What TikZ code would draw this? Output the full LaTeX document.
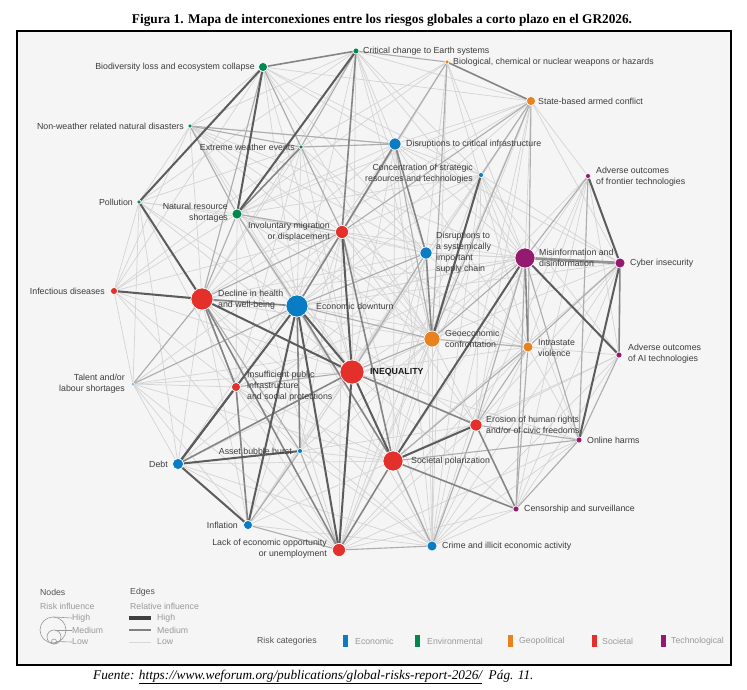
\documentclass[tikz,border=0pt]{standalone}
\usepackage{fontspec}
\newfontfamily\lsans{Liberation Sans}
\newfontfamily\lserif{Liberation Serif}
\definecolor{ecoC}{HTML}{0A7CC4}
\definecolor{envC}{HTML}{00884F}
\definecolor{geoC}{HTML}{E8821E}
\definecolor{socC}{HTML}{E3302B}
\definecolor{tecC}{HTML}{95196E}
\definecolor{bgC}{HTML}{F5F5F5}
\definecolor{txtC}{HTML}{3C3C3C}
\definecolor{legC}{HTML}{9A9A9A}
\pgfdeclarelayer{bg}
\pgfdeclarelayer{edges}
\pgfsetlayers{bg,edges,main}
\tikzset{
  nd/.style={circle, draw=white, line width=0.6pt, inner sep=0pt, minimum size=#1},
  lbl/.style={font=\lsans\fontsize{8.8}{11}\selectfont, text=txtC, inner sep=0pt, align=left},
  lblr/.style={lbl, align=right},
  legt/.style={font=\lsans\fontsize{8.7}{10}\selectfont, text=legC, inner sep=0pt, anchor=west},
  legh/.style={font=\lsans\fontsize{8.7}{10}\selectfont, text=black!68, inner sep=0pt, anchor=west},
  eL/.style={draw=black!17, line width=0.7pt},
  eM/.style={draw=black!32, line width=1.1pt},
  eMH/.style={draw=black!48, line width=1.6pt},
  eH/.style={draw=black!64, line width=2pt},
}
\begin{document}
\begin{tikzpicture}[x=1pt,y=-1pt]
\useasboundingbox (0,0) rectangle (747,690);
\begin{pgfonlayer}{bg}
\fill[white] (0,0) rectangle (747,690);
\fill[bgC] (17,31) rectangle (731,665);
\end{pgfonlayer}
\draw[line width=2pt] (17,31) rectangle (731,665);

% title and source
\node[font=\lserif\bfseries\fontsize{13.3}{15}\selectfont, inner sep=0pt] (title) at (382,20) {Figura 1. Mapa de interconexiones entre los riesgos globales a corto plazo en el GR2026.};
\node[font=\lserif\itshape\fontsize{13.3}{15}\selectfont, inner sep=0pt, anchor=west] (src) at (93,677) {Fuente: \underline{https://www.weforum.org/publications/global-risks-report-2026/}\ \ Pág. 11.};

% risk nodes
\node[nd=6pt, fill=envC] (cc) at (356,51) {};
\node[nd=9pt, fill=envC] (bio) at (263,67) {};
\node[nd=4pt, fill=geoC] (bcn) at (447,62) {};
\node[nd=9pt, fill=geoC] (sac) at (531,101) {};
\node[nd=4pt, fill=envC] (nwd) at (190,126) {};
\node[nd=4pt, fill=envC] (ewe) at (301,147) {};
\node[nd=12pt, fill=ecoC] (dci) at (395,144) {};
\node[nd=5pt, fill=ecoC] (csr) at (481,175) {};
\node[nd=5pt, fill=tecC] (aof) at (588,176) {};
\node[nd=4pt, fill=envC] (pol) at (139,202) {};
\node[nd=10pt, fill=envC] (nrs) at (237,214) {};
\node[nd=13pt, fill=socC] (inv) at (342,232) {};
\node[nd=12pt, fill=ecoC] (ssc) at (426,253) {};
\node[nd=20pt, fill=tecC] (mis) at (525,258) {};
\node[nd=10pt, fill=tecC] (cyb) at (620,263) {};
\node[nd=7pt, fill=socC] (inf) at (114,291) {};
\node[nd=22pt, fill=socC] (dhw) at (202,299) {};
\node[nd=22pt, fill=ecoC] (edt) at (297,306) {};
\node[nd=16pt, fill=geoC] (geo) at (432,339) {};
\node[nd=10pt, fill=geoC] (isv) at (528,347) {};
\node[nd=6pt, fill=tecC] (aai) at (619,355) {};
\node[nd=24pt, fill=socC] (ineq) at (352,372) {};
\node[nd=3pt, fill=ecoC] (tls) at (133,384) {};
\node[nd=9pt, fill=socC] (ipi) at (236,387) {};
\node[nd=12pt, fill=socC] (ehr) at (476,425) {};
\node[nd=6pt, fill=tecC] (onh) at (579,440) {};
\node[nd=5pt, fill=ecoC] (abb) at (300,451) {};
\node[nd=11pt, fill=ecoC] (debt) at (178,464) {};
\node[nd=20pt, fill=socC] (spo) at (393,461) {};
\node[nd=6pt, fill=tecC] (cas) at (516,509) {};
\node[nd=9pt, fill=ecoC] (infl) at (248,525) {};
\node[nd=13pt, fill=socC] (leo) at (339,550) {};
\node[nd=10pt, fill=ecoC] (crm) at (432,546) {};

% connectors
\begin{pgfonlayer}{edges}
\foreach \a/\b in {cc/dci, cc/csr, cc/ssc, cc/inv, cc/dhw, cc/edt, cc/pol, cc/nwd, cc/geo, cc/ineq, cc/sac, cc/mis,
 bio/nwd, bio/dci, bio/inv, bio/edt, bio/inf, bio/ineq, bio/ssc, bio/geo, bio/csr, bio/sac,
 bcn/ssc, bcn/inv, bcn/nrs, bcn/ewe, bcn/mis, bcn/edt, bcn/crm, bcn/isv,
 sac/dci, sac/edt, sac/dhw, sac/mis, sac/ehr, sac/spo, sac/cyb, sac/aof, sac/nrs, sac/leo, sac/crm, sac/ineq,
 nwd/dci, nwd/inv, nwd/dhw, nwd/edt, nwd/ineq, nwd/pol, nwd/ssc, nwd/geo, nwd/mis,
 ewe/dci, ewe/dhw, ewe/edt, ewe/ipi, ewe/pol, ewe/inf, ewe/ssc, ewe/ineq, ewe/geo,
 dci/nrs, dci/dhw, dci/ineq, dci/spo, dci/mis, dci/csr, dci/crm, dci/cyb, dci/isv, dci/debt,
 csr/inv, csr/ssc, csr/edt, csr/ineq, csr/spo, csr/mis, csr/ehr, csr/aai, csr/onh, csr/nrs, csr/cyb, csr/leo, csr/crm,
 aof/aai, aof/onh, aof/isv, aof/ehr, aof/cas, aof/spo, aof/geo,
 pol/inf, pol/nrs, pol/edt, pol/ineq, pol/inv, pol/ipi, pol/tls, pol/debt,
 nrs/inf, nrs/edt, nrs/geo, nrs/ssc, nrs/ineq, nrs/ipi, nrs/spo, nrs/leo, nrs/isv,
 inv/ssc, inv/edt, inv/geo, inv/isv, inv/mis, inv/ehr, inv/ipi, inv/leo, inv/crm, inv/infl, inv/abb, inv/tls,
 ssc/dhw, ssc/infl, ssc/mis, ssc/spo, ssc/leo, ssc/abb, ssc/debt, ssc/isv, ssc/crm, ssc/cyb,
 mis/ineq, mis/edt, mis/crm, mis/dhw, mis/ipi,
 cyb/ehr, cyb/cas, cyb/crm, cyb/geo, cyb/spo, cyb/edt,
 inf/edt, inf/ipi, inf/tls, inf/ineq, inf/inv, inf/nwd, inf/leo,
 dhw/tls, dhw/spo, dhw/geo, dhw/abb, dhw/debt, dhw/crm, dhw/infl,
 edt/ehr, edt/crm, edt/isv, edt/mis,
 geo/ehr, geo/leo, geo/abb, geo/crm, geo/infl, geo/debt,
 isv/crm, isv/ineq, isv/onh, isv/aai, isv/leo,
 aai/ehr, aai/cas, aai/spo, aai/crm,
 ineq/tls, ineq/infl, ineq/crm, ineq/cas, ineq/onh,
 tls/ipi, tls/leo, tls/spo, tls/infl, tls/debt, tls/geo,
 ipi/abb, ipi/leo, ipi/spo, ipi/infl, ipi/crm,
 ehr/leo, ehr/crm, ehr/abb,
 onh/crm, onh/leo, abb/spo, abb/crm, debt/spo, debt/leo, debt/crm,
 spo/infl, cas/crm, cas/leo, infl/crm}
 \draw[eL] (\a) -- (\b);
\foreach \a/\b in {sac/geo, mis/ehr, mis/geo, spo/onh, isv/ehr, isv/cas, cyb/isv, aai/onh, aof/mis,
 dci/inv, dci/geo, ssc/edt, ssc/ineq, inv/nrs, inv/dhw, nwd/nrs, nwd/ewe, ewe/inv, cc/ewe, bio/ewe, bio/dhw,
 tls/edt, tls/dhw, ipi/edt, ipi/dhw, ipi/ineq, abb/infl, abb/leo, infl/leo, crm/spo, crm/ehr, crm/leo, crm/ineq,
 cas/mis, onh/mis, ehr/onh, geo/ineq, geo/edt, geo/isv, isv/spo, sac/isv, sac/inv, bcn/cc, bcn/dci, bcn/geo,
 dci/ewe, dci/nwd, csr/geo, dhw/nrs, edt/nrs, sac/csr, onh/cas, aof/onh, dhw/abb}
 \draw[eM] (\a) -- (\b);
\foreach \a/\b in {cyb/aai, ewe/nrs, edt/abb, mis/isv, dhw/edt, leo/spo, debt/ineq, dci/ssc, ssc/geo,
 dhw/leo, spo/cas, ehr/cas, bcn/sac, cc/bio, ineq/ehr, edt/spo, inv/spo, dci/edt, dhw/ipi, cc/inv, ipi/infl}
 \draw[eMH] (\a) -- (\b);
\draw[draw=black!42, line width=2.8pt] (mis) -- (cyb);
\foreach \a/\b in {inf/dhw, bio/pol, pol/dhw, edt/ineq, dhw/ineq, ineq/spo, mis/spo, mis/aai, debt/abb,
 debt/infl, debt/edt, infl/edt, ipi/debt, inv/ineq, ineq/leo, cc/nrs, bio/nrs, aof/cyb, cyb/onh, csr/geo,
 edt/leo, spo/ehr}
 \draw[eH] (\a) -- (\b);
\end{pgfonlayer}

% labels
\node[lbl, anchor=west] (Lcc) at (363,51) {Critical change to Earth systems};
\node[lblr, anchor=east] (Lbio) at (255,67) {Biodiversity loss and ecosystem collapse};
\node[lbl, anchor=west] (Lbcn) at (453,62) {Biological, chemical or nuclear weapons or hazards};
\node[lbl, anchor=west] (Lsac) at (538,101) {State-based armed conflict};
\node[lblr, anchor=east] (Lnwd) at (184,126) {Non-weather related natural disasters};
\node[lblr, anchor=east] (Lewe) at (295,147) {Extreme weather events};
\node[lbl, anchor=west] (Ldci) at (406,144) {Disruptions to critical infrastructure};
\node[lblr, anchor=east] (Lcsr) at (473,174) {Concentration of strategic\\resources and technologies};
\node[lbl, anchor=west] (Laof) at (596,177) {Adverse outcomes\\of frontier technologies};
\node[lblr, anchor=east] (Lpol) at (133,202) {Pollution};
\node[lblr, anchor=east] (Lnrs) at (228,213) {Natural resource\\shortages};
\node[lblr, anchor=east] (Linv) at (330,232) {Involuntary migration\\or displacement};
\node[lbl, anchor=west] (Lssc) at (436,253) {Disruptions to\\a systemically\\important\\supply chain};
\node[lbl, anchor=west] (Lmis) at (539,258) {Misinformation and\\disinformation};
\node[lbl, anchor=west] (Lcyb) at (630,263) {Cyber insecurity};
\node[lblr, anchor=east] (Linf) at (105,291) {Infectious diseases};
\node[lbl, anchor=west] (Ldhw) at (218,300) {Decline in health\\and well-being};
\node[lbl, anchor=west] (Ledt) at (316,306) {Economic downturn};
\node[lbl, anchor=west] (Lgeo) at (445,339) {Geoeconomic\\confrontation};
\node[lbl, anchor=west] (Lisv) at (538,348) {Intrastate\\violence};
\node[lbl, anchor=west] (Laai) at (628,354) {Adverse outcomes\\of AI technologies};
\node[lbl, anchor=west, font=\lsans\bfseries\fontsize{8.8}{11}\selectfont, text=black!90] (Lineq) at (370,372) {INEQUALITY};
\node[lblr, anchor=east] (Ltls) at (125,384) {Talent and/or\\labour shortages};
\node[lbl, anchor=west] (Lipi) at (247,386) {Insufficient public\\infrastructure\\and social protections};
\node[lbl, anchor=west] (Lehr) at (486,425) {Erosion of human rights\\and/or of civic freedoms};
\node[lbl, anchor=west] (Lonh) at (587,440) {Online harms};
\node[lblr, anchor=east] (Labb) at (292,451) {Asset bubble burst};
\node[lblr, anchor=east] (Ldebt) at (168,464) {Debt};
\node[lbl, anchor=west] (Lspo) at (411,461) {Societal polarization};
\node[lbl, anchor=west] (Lcas) at (524,509) {Censorship and surveillance};
\node[lblr, anchor=east] (Linfl) at (238,525) {Inflation};
\node[lblr, anchor=east] (Lleo) at (327,549) {Lack of economic opportunity\\or unemployment};
\node[lbl, anchor=west] (Lcrm) at (442,546) {Crime and illicit economic activity};

% legend: nodes
\node[legh] (lgN) at (40,592) {Nodes};
\node[legt] (lgNs) at (40,606) {Risk influence};
\draw[legC, line width=0.6pt] (53,630) circle (13);
\draw[legC, line width=0.6pt] (54,637) circle (7);
\draw[legC, line width=0.6pt] (54,641.5) circle (2.5);
\coordinate (hiA) at (54,617); \coordinate (meA) at (55,630); \coordinate (loA) at (56,641.5);
\node[legt] (lgH) at (72,618) {High};
\node[legt] (lgM) at (72,630) {Medium};
\node[legt] (lgL) at (72,642) {Low};
\draw[legC, line width=0.6pt] (hiA) -- (lgH.west);
\draw[legC, line width=0.6pt] (meA) -- (lgM.west);
\draw[legC, line width=0.6pt] (loA) -- (lgL.west);
% legend: edges
\node[legh] (lgE) at (130,592) {Edges};
\node[legt] (lgEs) at (130,606) {Relative influence};
\coordinate (ebH1) at (129,618); \coordinate (ebH2) at (151,618);
\coordinate (ebM1) at (129,630); \coordinate (ebM2) at (151,630);
\coordinate (ebL1) at (129,642); \coordinate (ebL2) at (151,642);
\draw[black!75, line width=4pt] (ebH1) -- (ebH2);
\draw[black!50, line width=2.5pt] (ebM1) -- (ebM2);
\draw[black!15, line width=0.5pt] (ebL1) -- (ebL2);
\node[legt] (lgEH) at (157,618) {High};
\node[legt] (lgEM) at (157,630) {Medium};
\node[legt] (lgEL) at (157,642) {Low};
% legend: categories
\node[legh] (lgC) at (257,641) {Risk categories};
\fill[ecoC] (343,635) rectangle (348,647);
\node[legt] (lgC1) at (355,641) {Economic};
\fill[envC] (415,635) rectangle (420,647);
\node[legt] (lgC2) at (427,641) {Environmental};
\fill[geoC] (508,635) rectangle (513,647);
\node[legt] (lgC3) at (519,641) {Geopolitical};
\fill[socC] (592,635) rectangle (597,647);
\node[legt] (lgC4) at (602,641) {Societal};
\fill[tecC] (661,635) rectangle (666,647);
\node[legt] (lgC5) at (671,641) {Technological};
\end{tikzpicture}
\end{document}
